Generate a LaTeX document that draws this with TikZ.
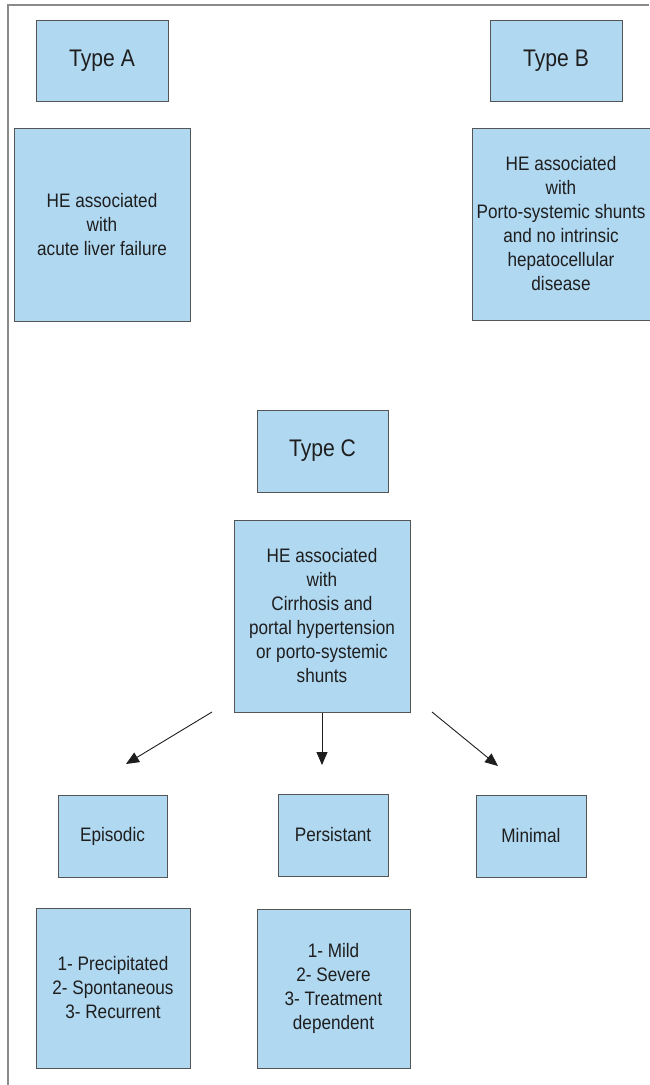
\documentclass[tikz,border=0pt]{standalone}
\usepackage{fontspec}
\setmainfont[FakeStretch=0.88]{Liberation Sans}
\usetikzlibrary{arrows.meta}
\definecolor{boxfill}{HTML}{B0D8F1}
\definecolor{boxline}{HTML}{555555}
\definecolor{txt}{HTML}{1E1E1E}
\definecolor{frame}{HTML}{8A8A8A}
\begin{document}
\begin{tikzpicture}[x=1pt,y=-1pt,
  bx/.style={draw=boxline,line width=1pt,fill=boxfill,inner sep=0pt,align=center,text=txt,
    font=\fontsize{19.5}{24}\selectfont},
  tbx/.style={bx,font=\fontsize{24}{28}\selectfont},
  arr/.style={-{Triangle[length=13pt,width=11pt]},line width=0.9pt,draw=txt}]
\useasboundingbox (0,0) rectangle (649,1085);
\draw[frame,line width=1.5pt] (8,1085) -- (8,5) -- (649,5);
\node[tbx,minimum width=132pt,minimum height=81pt] (ta) at (102,60.5) {Type A};
\node[bx,minimum width=176pt,minimum height=193pt] (ha) at (102,224.5) {HE associated\\with\\acute liver failure};
\node[tbx,minimum width=132pt,minimum height=81pt] (tb) at (556,60.5) {Type B};
\node[bx,minimum width=178pt,minimum height=192pt] (hb) at (561,224) {HE associated\\with\\Porto-systemic shunts\\and no intrinsic\\hepatocellular\\disease};
\node[tbx,minimum width=131pt,minimum height=82pt] (tc) at (322.5,451) {Type C};
\node[bx,minimum width=176pt,minimum height=192pt] (hc) at (322,616) {HE associated\\with\\Cirrhosis and\\portal hypertension\\or porto-systemic\\shunts};
\node[bx,minimum width=109pt,minimum height=82pt] (ep) at (112.5,836) {Episodic};
\node[bx,minimum width=110pt,minimum height=82pt] (pe) at (333,835) {Persistant};
\node[bx,minimum width=110pt,minimum height=82pt] (mi) at (531,836) {Minimal};
\node[bx,minimum width=154pt,minimum height=160pt] (le) at (113,988) {1- Precipitated\\2- Spontaneous\\3- Recurrent};
\node[bx,minimum width=153pt,minimum height=159pt] (lp) at (333.5,988.5) {1- Mild\\2- Severe\\3- Treatment\\dependent};
\coordinate (s1) at (212,712);
\coordinate (e1) at (126,764);
\coordinate (e2) at (322,765);
\coordinate (s3) at (432,712);
\coordinate (e3) at (498,766);
\draw[arr] (s1) -- (e1);
\draw[arr] (hc.south) -- (e2);
\draw[arr] (s3) -- (e3);
\end{tikzpicture}
\end{document}
